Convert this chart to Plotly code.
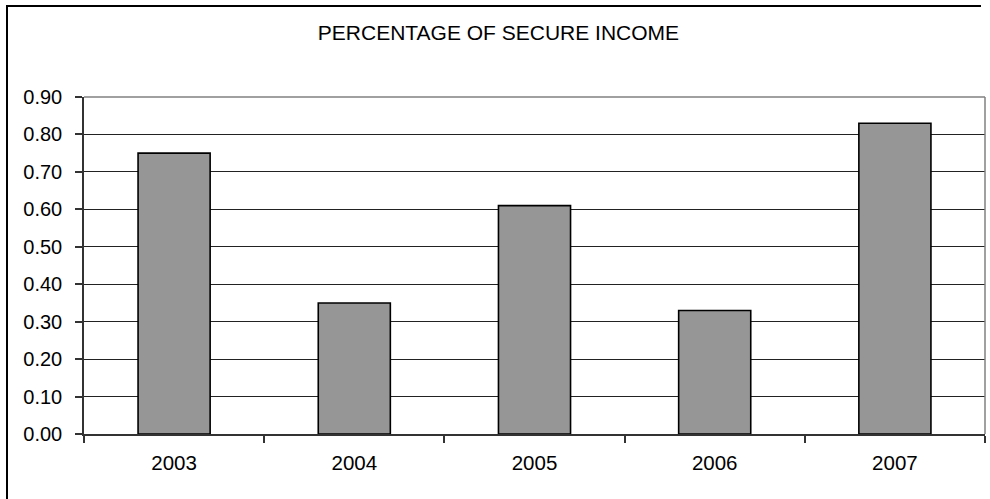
import plotly.graph_objects as go

# Data
years = ["2003", "2004", "2005", "2006", "2007"]
secure_share = [0.75, 0.35, 0.61, 0.33, 0.83]
y_ticks = [0.0, 0.1, 0.2, 0.3, 0.4, 0.5, 0.6, 0.7, 0.8, 0.9]

W, H = 990, 499
L, R, T, B = 84, 5, 97, 65  # plot area margins in px
PW = W - L - R
PH = H - T - B


def px_x(x):
    return (x - L) / PW


def px_y(y):
    return (H - B - y) / PH


FONT = "Liberation Sans, Arial, sans-serif"

fig = go.Figure(
    go.Bar(
        x=years,
        y=secure_share,
        marker=dict(color="#969696", line=dict(color="#000000", width=1.6)),
        width=0.4,
    )
)

fig.update_layout(
    width=W,
    height=H,
    margin=dict(l=L, r=R, t=T, b=B, pad=0),
    paper_bgcolor="white",
    plot_bgcolor="white",
    showlegend=False,
    font=dict(family=FONT, size=20, color="#000000"),
    title=dict(
        text="PERCENTAGE OF SECURE INCOME",
        x=0.5035,
        xanchor="center",
        y=1 - 33 / H,
        yanchor="middle",
        font=dict(family=FONT, size=21, color="#000000"),
    ),
    xaxis=dict(
        type="category",
        range=[-0.5, 4.5],
        showgrid=False,
        showline=True,
        linecolor="#333333",
        linewidth=1.5,
        ticks="outside",
        tickson="boundaries",
        ticklen=7,
        tickcolor="#333333",
        tickwidth=1.5,
        ticklabelstandoff=10,
        tickfont=dict(family=FONT, size=20.5, color="#000000"),
        fixedrange=True,
    ),
    yaxis=dict(
        range=[0, 0.9],
        tickvals=y_ticks,
        tickformat=".2f",
        showgrid=True,
        gridcolor="#222222",
        gridwidth=1,
        showline=True,
        linecolor="#333333",
        linewidth=1.5,
        ticks="outside",
        ticklen=7,
        tickcolor="#333333",
        tickwidth=1.5,
        ticklabelstandoff=9,
        zeroline=False,
        tickfont=dict(family=FONT, size=20, color="#000000"),
        fixedrange=True,
    ),
    shapes=[
        # grey top and right edges of the plot area
        dict(type="line", xref="paper", yref="paper", x0=0, x1=1, y0=1, y1=1,
             line=dict(color="#808080", width=1.5), layer="above"),
        dict(type="line", xref="paper", yref="paper", x0=1, x1=1, y0=0, y1=1,
             line=dict(color="#808080", width=1.5), layer="above"),
        # outer chart frame
        dict(type="line", xref="paper", yref="paper",
             x0=px_x(7), x1=px_x(981), y0=px_y(6), y1=px_y(6),
             line=dict(color="#000000", width=2)),
        dict(type="line", xref="paper", yref="paper",
             x0=px_x(7), x1=px_x(7), y0=px_y(5), y1=px_y(505),
             line=dict(color="#000000", width=2)),
    ],
)

fig.write_html("out.html")
